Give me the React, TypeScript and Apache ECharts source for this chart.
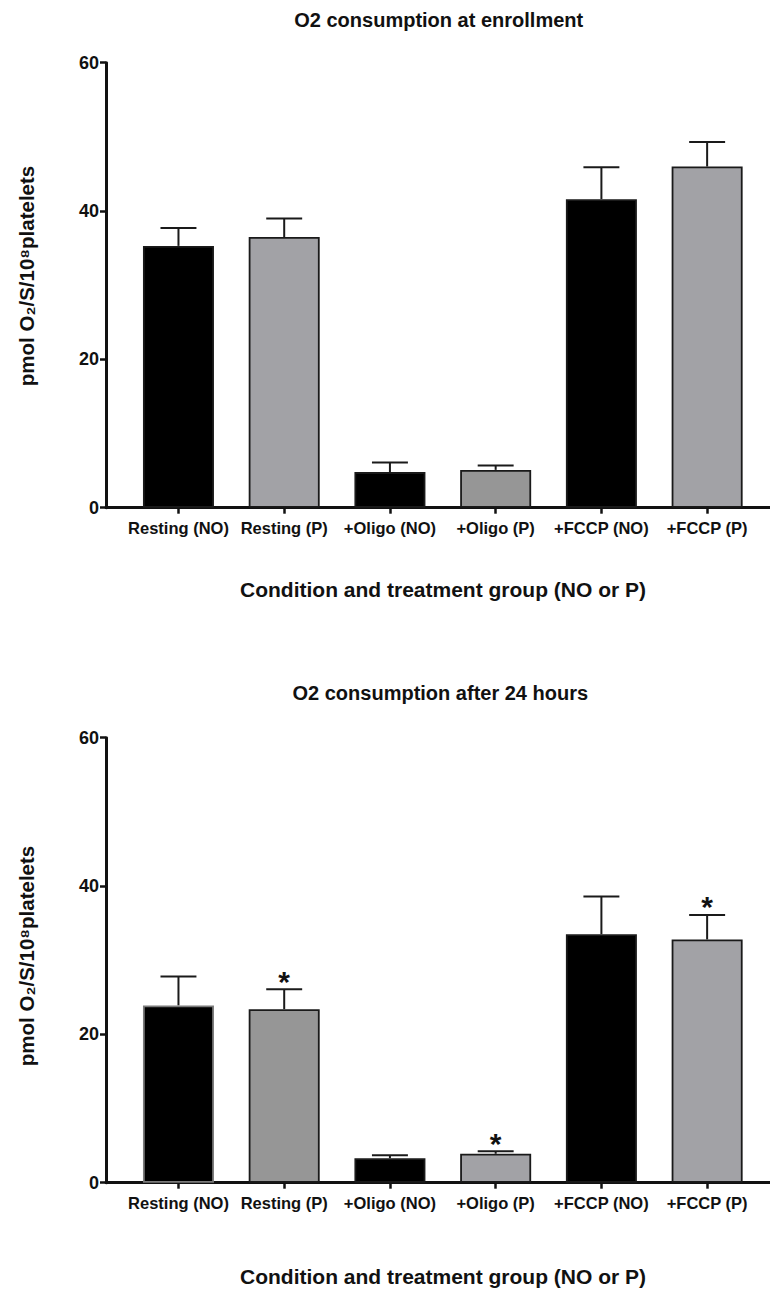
import React, { useEffect, useRef } from "react";
import * as echarts from "echarts";

const categories = ["Resting (NO)", "Resting (P)", "+Oligo (NO)", "+Oligo (P)", "+FCCP (NO)", "+FCCP (P)"];
const yTicks = [0, 20, 40, 60];

const enrollMean = [35.3, 36.5, 4.8, 5.1, 41.6, 46.0];
const enrollSem = [2.4, 2.5, 1.3, 0.6, 4.3, 3.3];
const enrollSig = [false, false, false, false, false, false];

const after24Mean = [23.9, 23.4, 3.3, 3.9, 33.5, 32.8];
const after24Sem = [3.9, 2.7, 0.4, 0.35, 5.1, 3.3];
const after24Sig = [false, true, false, true, false, true];

const titleTop = "O2 consumption at enrollment";
const titleBottom = "O2 consumption after 24 hours";
const xName = "Condition and treatment group (NO or P)";
const yName = "pmol O\u2082/S/10\u2078platelets";

// styles
const enrollFill = ["#000000", "#a2a2a6", "#000000", "#969696", "#000000", "#a2a2a6"];
const enrollBorder = ["#1a1a1a", "#1a1a1a", "#1a1a1a", "#1a1a1a", "#1a1a1a", "#1a1a1a"];
const after24Fill = ["#000000", "#969696", "#000000", "#a2a2a6", "#000000", "#a2a2a6"];
const after24Border = ["#7a7a7a", "#1a1a1a", "#1a1a1a", "#1a1a1a", "#1a1a1a", "#1a1a1a"];

const FONT = "'Liberation Sans', Arial, sans-serif";
const INK = "#111";

function buildPanel(
  idx: number,
  top: number,
  mean: number[],
  sem: number[],
  sig: boolean[],
  fills: string[],
  borders: string[]
) {
  const axisGrid = { left: 106, top, width: 664, height: 445 };
  const barGrid = { left: 125.6, top, width: 634.4, height: 445 };
  const gA = idx * 2;
  const gB = idx * 2 + 1;
  const xAxes = [
    {
      gridIndex: gA,
      type: "value",
      min: 0,
      max: 1,
      axisLine: { show: true, lineStyle: { color: INK, width: 3 } },
      axisTick: { show: false },
      axisLabel: { show: false },
      splitLine: { show: false },
    },
    {
      gridIndex: gB,
      type: "category",
      data: categories,
      boundaryGap: true,
      axisLine: { show: false },
      axisTick: { show: true, alignWithLabel: true, length: 6, lineStyle: { color: INK, width: 2.5 } },
      axisLabel: { show: true, interval: 0, color: INK, fontWeight: "bold", fontSize: 16.5, fontFamily: FONT, margin: 12 },
      splitLine: { show: false },
    },
  ];
  const yAxes = [
    {
      gridIndex: gA,
      type: "value",
      min: yTicks[0],
      max: yTicks[yTicks.length - 1],
      interval: 20,
      axisLine: { show: true, lineStyle: { color: INK, width: 3 } },
      axisTick: { show: true, length: 6, lineStyle: { color: INK, width: 2.5 } },
      axisLabel: { show: true, color: INK, fontWeight: "bold", fontSize: 18, fontFamily: FONT, margin: 7 },
      splitLine: { show: false },
    },
    {
      gridIndex: gB,
      type: "value",
      min: yTicks[0],
      max: yTicks[yTicks.length - 1],
      interval: 20,
      show: false,
      splitLine: { show: false },
    },
  ];
  const series = [
    {
      type: "bar",
      xAxisIndex: gB,
      yAxisIndex: gB,
      barWidth: 71,
      data: mean.map((v, i) => ({
        value: v,
        itemStyle: { color: fills[i], borderColor: borders[i], borderWidth: 1.8 },
      })),
    },
    {
      type: "custom",
      xAxisIndex: gB,
      yAxisIndex: gB,
      data: mean.map((v, i) => [i, v, sem[i], sig[i] ? 1 : 0]),
      renderItem: (params: any, api: any) => {
        const x = api.value(0);
        const m = api.value(1);
        const e = api.value(2);
        const s = api.value(3);
        const base = api.coord([x, m]);
        const tp = api.coord([x, m + e]);
        const half = api.size([1, 0])[0] * 0.17;
        const stroke = { stroke: "#1a1a1a", lineWidth: 2 };
        const children: any[] = [
          { type: "line", shape: { x1: base[0], y1: base[1], x2: tp[0], y2: tp[1] }, style: stroke },
          { type: "line", shape: { x1: tp[0] - half, y1: tp[1], x2: tp[0] + half, y2: tp[1] }, style: stroke },
        ];
        if (s) {
          children.push({
            type: "text",
            x: tp[0],
            y: tp[1] + 7,
            style: {
              text: "*",
              fill: INK,
              fontSize: 30,
              fontWeight: "bold",
              fontFamily: FONT,
              align: "center",
              verticalAlign: "bottom",
            },
          });
        }
        return { type: "group", children };
      },
    },
  ];
  return { grids: [axisGrid, barGrid], xAxes, yAxes, series };
}

export default function App() {
  const ref = useRef<HTMLDivElement>(null);
  useEffect(() => {
    if (!ref.current) return;
    const chart = echarts.init(ref.current, null, { renderer: "svg" });
    const p1 = buildPanel(0, 62.7, enrollMean, enrollSem, enrollSig, enrollFill, enrollBorder);
    const p2 = buildPanel(1, 737.7, after24Mean, after24Sem, after24Sig, after24Fill, after24Border);
    const txt = (text: string, x: number, y: number, size: number, rot = 0) => ({
      type: "text",
      x,
      y,
      rotation: rot,
      style: {
        text,
        fill: INK,
        fontSize: size,
        fontWeight: "bold",
        fontFamily: FONT,
        align: "center",
        verticalAlign: "middle",
      },
    });
    chart.setOption({
      animation: false,
      backgroundColor: "#fff",
      textStyle: { fontFamily: FONT },
      grid: [...p1.grids, ...p2.grids],
      xAxis: [...p1.xAxes, ...p2.xAxes],
      yAxis: [...p1.yAxes, ...p2.yAxes],
      series: [...p1.series, ...p2.series],
      graphic: [
        txt(titleTop, 438.7, 20, 20),
        txt(titleBottom, 440.3, 693, 20),
        txt(xName, 443, 589, 21),
        txt(xName, 443, 1276, 21),
        txt(yName, 26, 276, 20.5, Math.PI / 2),
        txt(yName, 26, 956, 20.5, Math.PI / 2),
      ],
    });
    return () => chart.dispose();
  }, []);
  return (
    <div
      ref={ref}
      style={{ position: "absolute", left: 0, top: 0, width: 770, height: 1292, background: "#fff" }}
    />
  );
}
